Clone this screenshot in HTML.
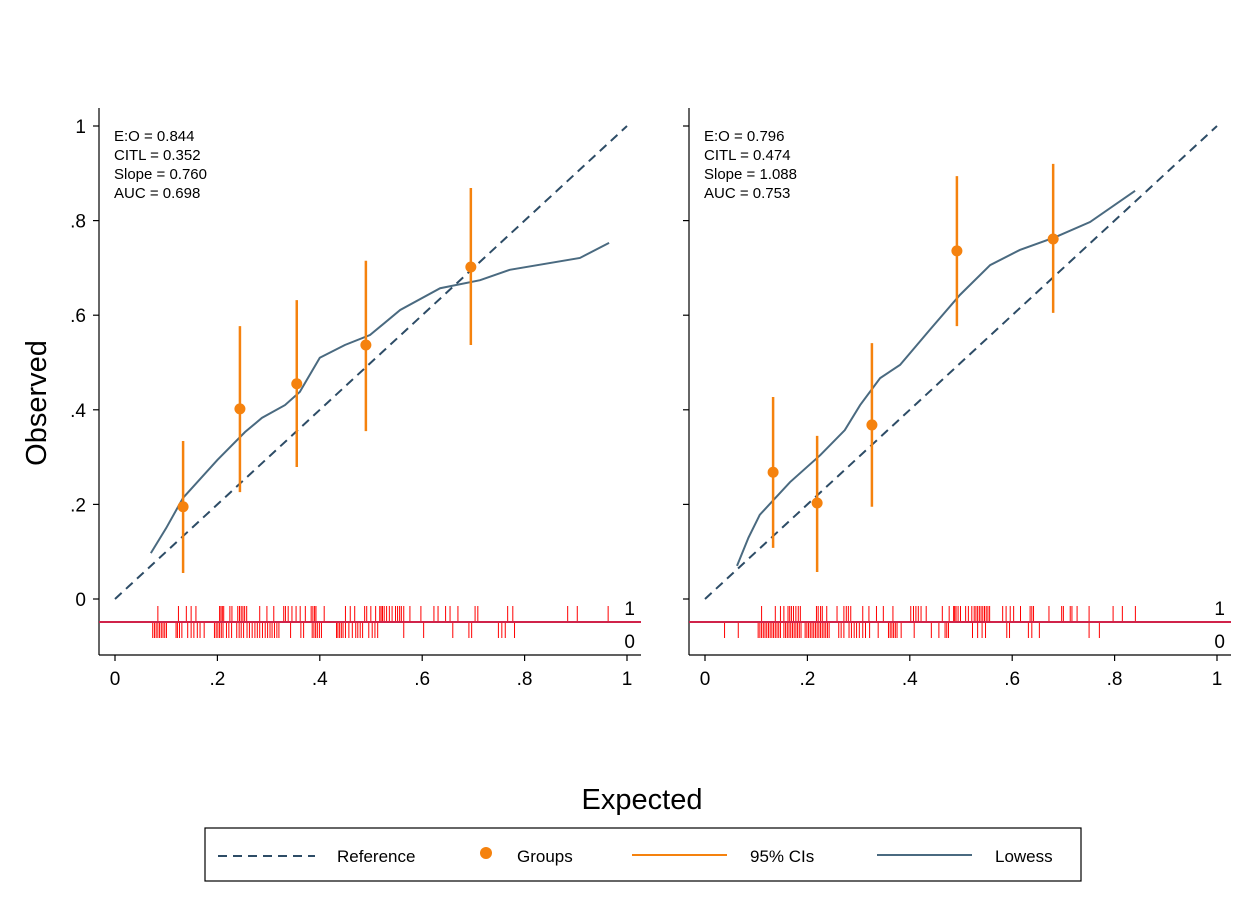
<!DOCTYPE html>
<html><head><meta charset="utf-8"><style>
body{margin:0;background:#fff;font-family:"Liberation Sans",Arial,sans-serif}
svg text{font-family:"Liberation Sans",Arial,sans-serif}
</style></head><body>
<svg id="chart" width="1254" height="912" viewBox="0 0 1254 912">
<rect width="1254" height="912" fill="#fff"/>
<g id="panels"></g>
<text x="642" y="809" font-size="29" text-anchor="middle">Expected</text>
<text transform="translate(46,403) rotate(-90)" font-size="29" text-anchor="middle">Observed</text>
<g>
<rect x="205" y="828" width="876" height="53" fill="#fff" stroke="#000" stroke-width="1.2"/>
<g><line x1="218" y1="856" x2="315" y2="856" stroke="#2d4c66" stroke-width="2" stroke-dasharray="9,6"/><text x="337" y="862" font-size="17">Reference</text></g>
<g><circle cx="486" cy="853" r="6" fill="#f5820e"/><text x="517" y="862" font-size="17">Groups</text></g>
<g><line x1="632" y1="855" x2="727" y2="855" stroke="#f5820e" stroke-width="2"/><text x="750" y="862" font-size="17">95% CIs</text></g>
<g><line x1="877" y1="855" x2="972" y2="855" stroke="#4a6a80" stroke-width="2"/><text x="995" y="862" font-size="17">Lowess</text></g>
</g>
</svg>
<script>
const yTicks=[0,0.2,0.4,0.6,0.8,1];
const yTickLabels=["0",".2",".4",".6",".8","1"];
const xTicks=[0,0.2,0.4,0.6,0.8,1];
const xTickLabels=["0",".2",".4",".6",".8","1"];
const statsLeft=["E:O = 0.844","CITL = 0.352","Slope = 0.760","AUC = 0.698"];
const statsRight=["E:O = 0.796","CITL = 0.474","Slope = 1.088","AUC = 0.753"];
const groupXLeft=[0.133,0.244,0.355,0.49,0.695];
const groupYLeft=[0.195,0.402,0.455,0.537,0.702];
const ciLoLeft=[0.055,0.226,0.279,0.355,0.537];
const ciHiLeft=[0.334,0.577,0.632,0.715,0.869];
const groupXRight=[0.133,0.219,0.326,0.492,0.68];
const groupYRight=[0.268,0.203,0.368,0.736,0.761];
const ciLoRight=[0.108,0.057,0.195,0.577,0.605];
const ciHiRight=[0.427,0.345,0.541,0.894,0.92];
const lowessXLeft=[0.07,0.1,0.133,0.2,0.254,0.287,0.332,0.361,0.4,0.449,0.498,0.557,0.635,0.713,0.771,0.908,0.965];
const lowessYLeft=[0.097,0.15,0.214,0.294,0.353,0.383,0.41,0.438,0.51,0.537,0.558,0.611,0.657,0.674,0.696,0.721,0.753];
const lowessXRight=[0.0625,0.085,0.107,0.166,0.225,0.273,0.303,0.342,0.381,0.439,0.498,0.557,0.615,0.684,0.752,0.84];
const lowessYRight=[0.07,0.13,0.178,0.247,0.304,0.357,0.41,0.467,0.495,0.569,0.643,0.706,0.738,0.765,0.797,0.863];
const rug1Left=[165,225,248,262,276,345,349,353,357,375,381,398,403,408,413,418,424,462,483,503,532,537,545,556,568,580,595,612,617,622,626,650,712,726,739,768,774,786,800,812,816,820,825,832,840,848,858,864,870,875,882,900,932,970,982,1004,1017,1040,1090,1098,1185,1200,1360,1388,1478].map(z=>(z-40)/1493);
const rug0Left=[150,155,160,165,170,175,180,185,190,218,222,228,235,252,262,270,280,288,300,330,335,340,345,350,355,365,372,380,395,402,408,415,425,432,440,448,455,462,470,478,485,492,498,505,512,518,552,582,590,615,620,625,630,636,642,686,690,695,700,705,712,722,732,742,748,755,762,780,790,798,806,882,940,1025,1072,1080,1158,1168,1178,1205].map(z=>(z-40)/1493);
const rug1Right=[205,245,260,270,282,287,292,298,305,312,318,365,370,377,382,395,425,445,452,458,465,500,518,540,560,588,640,648,655,662,670,685,732,752,765,768,772,778,785,800,808,818,825,830,835,840,845,850,855,860,865,870,908,918,930,940,960,988,993,998,1043,1080,1085,1105,1110,1125,1160,1230,1257,1295].map(z=>(z-40)/1493);
const rug0Right=[97,137,195,200,205,210,215,220,225,230,235,240,245,250,255,260,270,275,280,285,290,295,300,305,310,315,320,332,337,342,347,352,357,362,367,372,377,382,387,392,397,402,430,437,445,460,467,475,482,490,500,508,520,545,575,580,585,590,595,600,612,650,700,722,740,745,750,820,835,848,858,920,928,983,993,1015,1160,1190].map(z=>(z-40)/1493);

const NS="http://www.w3.org/2000/svg";
function mk(tag,attrs,parent){const e=document.createElementNS(NS,tag);for(const k in attrs)e.setAttribute(k,attrs[k]);parent.appendChild(e);return e;}
function panel(id,x0,showY,stats,gx,gy,lo,hi,lx,ly,r1,r0){
  const g=mk('g',{},document.getElementById('panels'));
  
  
  const X=v=>x0+16+v*512, Y=v=>599-v*473;
  const axL=x0, axR=x0+542, axB=655, axT=108;
  mk('line',{x1:axL,y1:axT,x2:axL,y2:axB,stroke:'#000','stroke-width':1.2},g);
  mk('line',{x1:axL,y1:axB,x2:axR,y2:axB,stroke:'#000','stroke-width':1.2},g);
  yTicks.forEach((t,i)=>{mk('line',{x1:axL-6,y1:Y(t),x2:axL,y2:Y(t),stroke:'#000','stroke-width':1.2},g);
    if(showY){const tx=mk('text',{x:axL-13,y:Y(t)+7,'font-size':19,'text-anchor':'end'},g);tx.textContent=yTickLabels[i];
      
      }});
  xTicks.forEach((t,i)=>{mk('line',{x1:X(t),y1:axB,x2:X(t),y2:axB+6,stroke:'#000','stroke-width':1.2},g);
    const tx=mk('text',{x:X(t),y:axB+30,'font-size':19,'text-anchor':'middle'},g);tx.textContent=xTickLabels[i];
    
    });
  stats.forEach((s,i)=>{const tx=mk('text',{x:axL+15,y:141+i*19,'font-size':15},g);tx.textContent=s;
    
    });
  mk('line',{x1:axL,y1:622,x2:axR,y2:622,stroke:'#d0234a','stroke-width':2},g);
  r1.forEach(v=>{const l=mk('line',{x1:X(v),y1:606,x2:X(v),y2:621,stroke:'#ff0000','stroke-width':1},g);
    
    });
  r0.forEach(v=>{const l=mk('line',{x1:X(v),y1:623,x2:X(v),y2:638,stroke:'#ff0000','stroke-width':1},g);
    
    });
  const t1=mk('text',{x:axR-6,y:615,'font-size':19,'text-anchor':'end'},g);t1.textContent='1';
  
  
  const t0=mk('text',{x:axR-6,y:648,'font-size':19,'text-anchor':'end'},g);t0.textContent='0';
  
  
  const ref=mk('line',{x1:X(0),y1:Y(0),x2:X(1),y2:Y(1),stroke:'#2d4c66','stroke-width':2,'stroke-dasharray':'9,6'},g);
  
  
  const lw=mk('polyline',{points:lx.map((v,i)=>X(v)+','+Y(ly[i])).join(' '),fill:'none',stroke:'#4a6a80','stroke-width':2},g);
  
  
  gx.forEach((v,i)=>{const c=mk('line',{x1:X(v),y1:Y(lo[i]),x2:X(v),y2:Y(hi[i]),stroke:'#f5820e','stroke-width':2.5},g);
    
    
    const p=mk('circle',{cx:X(v),cy:Y(gy[i]),r:5.5,fill:'#f5820e'},g);
    
    });
}
panel('left-panel',99,true,statsLeft,groupXLeft,groupYLeft,ciLoLeft,ciHiLeft,lowessXLeft,lowessYLeft,rug1Left,rug0Left);
panel('right-panel',689,false,statsRight,groupXRight,groupYRight,ciLoRight,ciHiRight,lowessXRight,lowessYRight,rug1Right,rug0Right);
</script>
</body></html>
